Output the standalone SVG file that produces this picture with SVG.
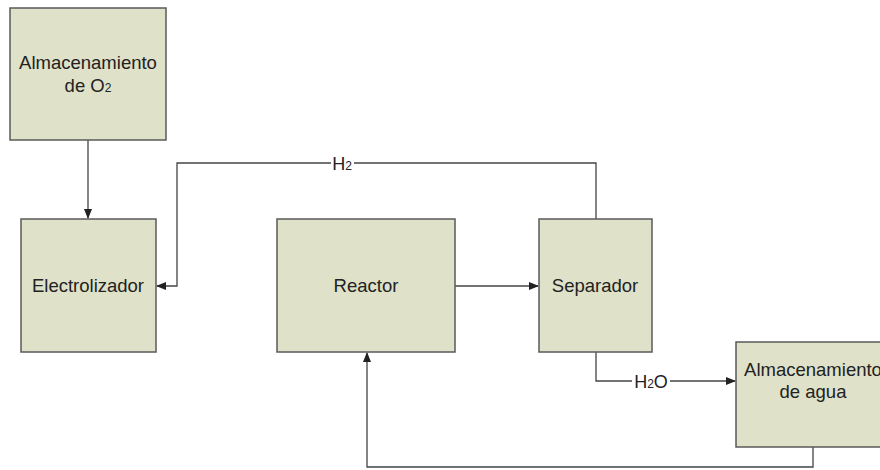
<svg xmlns="http://www.w3.org/2000/svg" width="880" height="470" viewBox="0 0 880 470">
<defs>
<style>
.box{fill:#dfe1c9;stroke:#5a5a5a;stroke-width:1.5}
.t{font-family:"Liberation Sans",Arial,sans-serif;font-size:18.5px;fill:#222;text-anchor:middle}
.s{font-size:12px}
.c{fill:none;stroke:#444;stroke-width:1.3}
.lbl{font-family:"Liberation Sans",Arial,sans-serif;font-size:18px;fill:#222;text-anchor:middle}
</style>
<marker id="ah" markerWidth="10" markerHeight="8" refX="9" refY="4" orient="auto" markerUnits="userSpaceOnUse">
<path d="M0,0 L10,4 L0,8 z" fill="#222"/>
</marker>
</defs>
<rect width="880" height="470" fill="#fff"/>
<g id="connectors">
<path class="c" d="M88,140 V218" marker-end="url(#ah)"/>
<path class="c" d="M596,219 V163 H177 V286 H157" marker-end="url(#ah)"/>
<path class="c" d="M455,286 H538" marker-end="url(#ah)"/>
<path class="c" d="M596,352 V381 H735" marker-end="url(#ah)"/>
<path class="c" d="M813,447 V467 H367 V353" marker-end="url(#ah)"/>
<rect x="331" y="154" width="23" height="18" fill="#fff"/>
<text class="lbl" x="342" y="170">H<tspan class="s">2</tspan></text>
<rect x="632" y="372" width="38" height="18" fill="#fff"/>
<text class="lbl" x="651" y="388">H<tspan class="s">2</tspan>O</text>
</g>
<g id="o2">
<rect class="box" x="10" y="8" width="156" height="132"/>
<text class="t" x="88" y="69">Almacenamiento</text>
<text class="t" x="88" y="92">de O<tspan class="s">2</tspan></text>
</g>
<g id="electrolizador">
<rect class="box" x="21" y="219" width="135" height="133"/>
<text class="t" x="88" y="292">Electrolizador</text>
</g>
<g id="reactor">
<rect class="box" x="277" y="219" width="178" height="133"/>
<text class="t" x="366" y="292">Reactor</text>
</g>
<g id="separador">
<rect class="box" x="539" y="219" width="113" height="133"/>
<text class="t" x="595" y="292">Separador</text>
</g>
<g id="agua">
<rect class="box" x="736" y="342" width="154" height="105"/>
<text class="t" x="813" y="376">Almacenamiento</text>
<text class="t" x="813" y="398">de agua</text>
</g>
</svg>
